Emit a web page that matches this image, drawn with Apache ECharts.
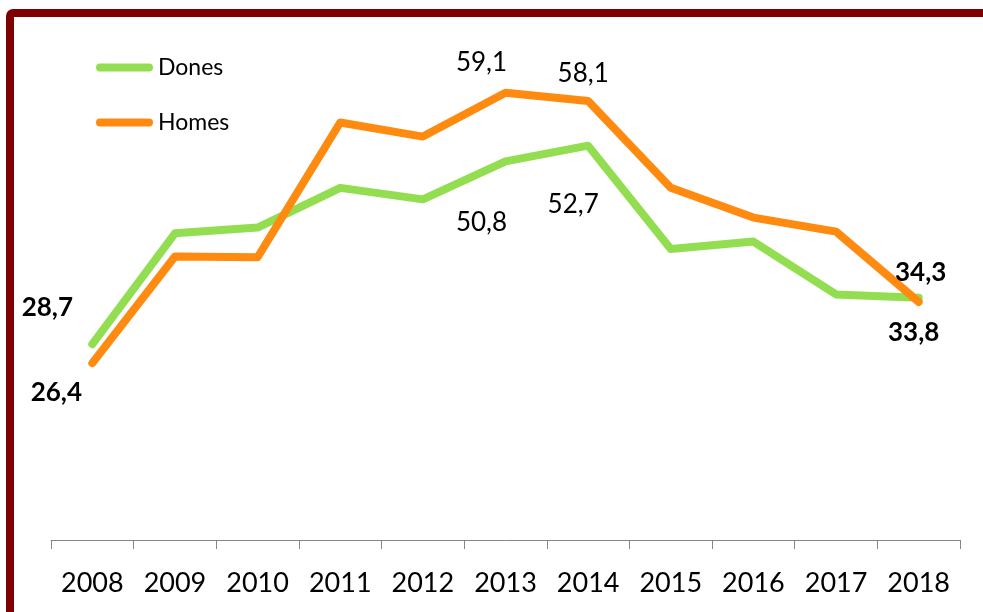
<!DOCTYPE html>
<html>
<head>
    <meta charset="utf-8">
    <title>Dones i homes</title>
    <script src="https://cdn.jsdelivr.net/npm/echarts@6/dist/echarts.min.js"></script>
    <style>
        html, body { margin: 0; padding: 0; background: #fff; }
        #main { width: 983px; height: 612px; }
    </style>
</head>
<body>
    <div id="main"></div>
    <script type="text/javascript">
        var years = ['2008', '2009', '2010', '2011', '2012', '2013', '2014', '2015', '2016', '2017', '2018'];
        var dones = [28.7, 42.1, 42.8, 47.6, 46.2, 50.8, 52.7, 40.2, 41.1, 34.7, 34.3];
        var homes = [26.4, 39.3, 39.2, 55.5, 53.8, 59.1, 58.1, 47.6, 44.0, 42.3, 33.8];

        // which points carry a value label, and where it sits relative to the point
        var donesLabels = {
            0: { offset: [-45, -36], bold: true },
            5: { offset: [-24, 61] },
            6: { offset: [-15, 59] },
            10: { offset: [2, -25], bold: true }
        };
        var homesLabels = {
            0: { offset: [-36, 30], bold: true },
            5: { offset: [-24, -30] },
            6: { offset: [-5, -27] },
            10: { offset: [-5, 31], bold: true }
        };

        var fontFamily = 'Lato';

        function buildData(values, labels) {
            return values.map(function (v, i) {
                var item = { value: v };
                var l = labels[i];
                if (l) {
                    item.label = {
                        show: true,
                        position: 'inside',
                        offset: l.offset,
                        fontWeight: l.bold ? 'bold' : 'normal'
                    };
                }
                return item;
            });
        }

        var labelBase = {
            show: false,
            color: '#000',
            fontFamily: fontFamily,
            fontSize: 26,
            formatter: function (p) {
                return p.value.toFixed(1).replace('.', ',');
            }
        };

        var myChart = echarts.init(document.getElementById('main'));
        var pill = 'path://M4 0H53A4 4 0 0 1 53 8H4A4 4 0 0 1 4 0Z';

        var option = {
            backgroundColor: '#fff',
            animation: false,
            graphic: [{
                type: 'rect',
                shape: { x: 10, y: 13, width: 1100, height: 800, r: 3 },
                style: { fill: null, stroke: '#7f0000', lineWidth: 8 },
                silent: true
            }],
            legend: {
                orient: 'vertical',
                left: 96,
                top: 56,
                padding: 0,
                itemGap: 32,
                itemWidth: 57,
                itemHeight: 8,
                textStyle: { color: '#000', fontFamily: fontFamily, fontSize: 23 },
                data: [{ name: 'Dones', icon: pill }, { name: 'Homes', icon: pill }]
            },
            grid: { left: 51, right: 23, top: 44, bottom: 72 },
            xAxis: {
                type: 'category',
                data: years,
                boundaryGap: true,
                axisLine: { lineStyle: { color: '#868686', width: 1 } },
                axisTick: { show: true, length: 9, lineStyle: { color: '#868686', width: 1 } },
                axisLabel: {
                    interval: 0,
                    margin: 30,
                    color: '#000',
                    fontFamily: fontFamily,
                    fontSize: 27
                },
                splitLine: { show: false }
            },
            yAxis: {
                type: 'value',
                min: 5,
                max: 65,
                show: false,
                splitLine: { show: false }
            },
            series: [
                {
                    name: 'Dones',
                    type: 'line',
                    data: buildData(dones, donesLabels),
                    symbol: 'circle',
                    symbolSize: 1,
                    showAllSymbol: true,
                    itemStyle: { color: '#92de50' },
                    lineStyle: { color: '#92de50', width: 8, cap: 'round', join: 'round' },
                    label: labelBase
                },
                {
                    name: 'Homes',
                    type: 'line',
                    data: buildData(homes, homesLabels),
                    symbol: 'circle',
                    symbolSize: 1,
                    showAllSymbol: true,
                    itemStyle: { color: '#ff8a10' },
                    lineStyle: { color: '#ff8a10', width: 8, cap: 'round', join: 'round' },
                    label: labelBase
                }
            ]
        };

        myChart.setOption(option);
    </script>
</body>
</html>
